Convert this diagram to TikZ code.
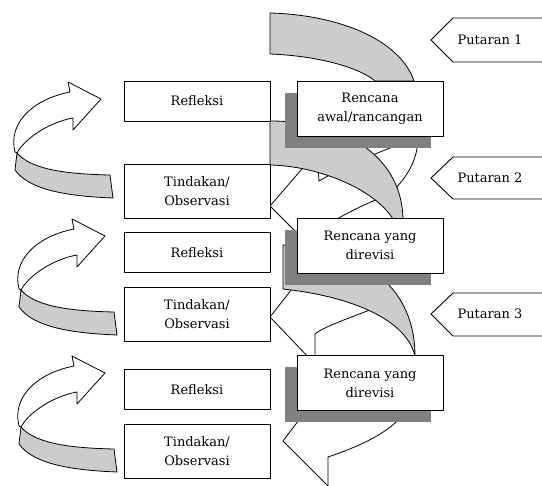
\documentclass[tikz,border=0pt]{standalone}
\usepackage{fontspec}
\setmainfont{DejaVu Serif}
\usetikzlibrary{shadows}
\definecolor{shadowgray}{RGB}{128,128,128}
\definecolor{bandgray}{RGB}{204,204,204}
\newcommand\drawloop{%
  \draw[band] (110,175) .. controls (60,174) and (30,168) .. (17,153) -- (15,170) .. controls (28,188) and (60,196) .. (113,198) -- cycle;
  \draw[fill=white] (15,152) .. controls (8,125) and (30,100) .. (70,92) -- (68,82) -- (101,99) -- (73,130) -- (73,118) .. controls (50,122) and (25,138) .. (17,153) -- cycle;
}
\begin{document}
\begin{tikzpicture}[x=1pt,y=-1pt,
  line width=0.8pt, line join=round,
  band/.style={fill=bandgray, draw},
  txt/.style={font=\fontsize{13}{19}\selectfont},
  box/.style={draw, fill=white, line width=0.9pt, minimum width=146pt, inner sep=0pt, align=center, txt},
  refl/.style={box, minimum height=40pt},
  act/.style={box, minimum height=54pt},
  plan/.style={box, minimum height=55pt,
    drop shadow={shadow xshift=-12pt, shadow yshift=-12pt, fill=shadowgray, opacity=1, draw=none}},
  lbl/.style={txt, inner sep=0pt}]
\useasboundingbox (0,0) rectangle (542,486);

% left loop arrows
\drawloop
\begin{scope}[shift={(4,137)}]\drawloop\end{scope}
\begin{scope}[shift={(4,274)}]\drawloop\end{scope}

% white ribbon edges (behind the grey bands)
% cycle 1
\draw (270,206) -- (308,162);
\draw (270,206) -- (300,236);
\draw (318,168) -- (319,181) -- (335,172);
\draw (330,223) .. controls (345,214) and (365,204) .. (385,196);
\draw (395,146) -- (365,158);
\draw (418,140) .. controls (417,160) and (408,176) .. (392,192);
% cycle 2
\draw (270,317) -- (299,280);
\draw (270,317) -- (312,361);
\draw (380,306) .. controls (350,318) and (325,326) .. (315,334) -- (315,360);
% cycle 3
\draw (283,441) -- (302,416);
\draw (283,441) -- (328,486);
\draw (400,418) .. controls (385,435) and (355,448) .. (328,457) -- (328,486);

% grey bands
\draw[band] (270,13) -- (270,54) .. controls (320,56) and (360,68) .. (375,81) -- (414,81) .. controls (400,40) and (340,15) .. (270,13) -- cycle;
\draw[band] (270,121) -- (270,165) .. controls (320,166) and (375,190) .. (393,219) -- (403,219) .. controls (402,160) and (350,121) .. (270,121) -- cycle;
\draw[band] (283,245) -- (283,289) .. controls (340,295) and (405,315) .. (415,356) .. controls (415,300) and (380,250) .. (283,245) -- cycle;

% left column
\node[refl] (r1) at (197,101) {Refleksi};
\node[act]  (t1) at (197,191) {Tindakan/\\Observasi};
\node[refl] (r2) at (197,252.5) {Refleksi};
\node[act]  (t2) at (197,314) {Tindakan/\\Observasi};
\node[refl] (r3) at (197,389.5) {Refleksi};
\node[act]  (t3) at (197,451) {Tindakan/\\Observasi};

% plan boxes
\node[plan] (p1) at (370,108.5) {Rencana\\awal/rancangan};
\node[plan] (p2) at (370,245.5) {Rencana yang\\direvisi};
\node[plan] (p3) at (370,383) {Rencana yang\\direvisi};

% cycle labels
\draw[line width=0.9pt] (542,18) -- (453,18) -- (431,40) -- (453,62) -- (542,62);
\node[lbl] (c1) at (490,40) {Putaran 1};
\draw[line width=0.9pt] (542,157) -- (453,157) -- (431,178) -- (453,199) -- (542,199);
\node[lbl] (c2) at (490,178) {Putaran 2};
\draw[line width=0.9pt] (542,293) -- (453,293) -- (431,314) -- (453,336) -- (542,336);
\node[lbl] (c3) at (490,314) {Putaran 3};
\end{tikzpicture}
\end{document}
